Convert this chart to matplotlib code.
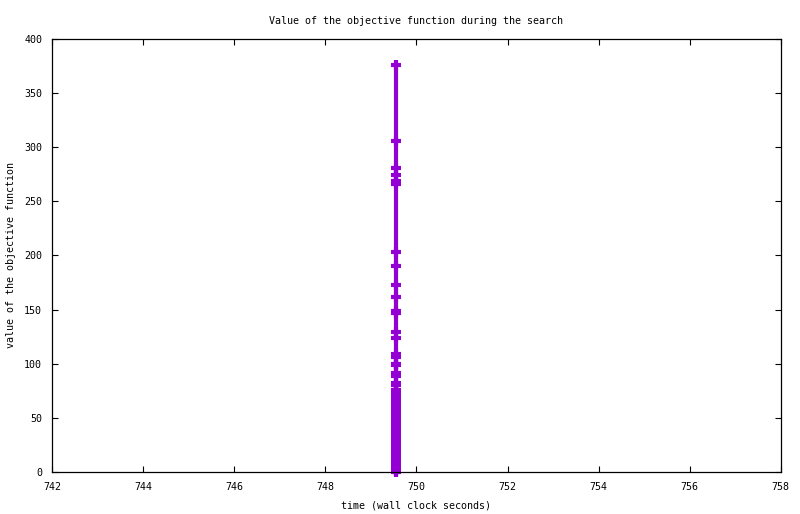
import matplotlib
matplotlib.use("Agg")
import matplotlib.pyplot as plt

# objective values (search order, high to low)
objective = [376, 306, 281, 274, 269, 266, 203, 190, 173, 162, 149, 147,
             129, 124, 109, 106, 99.5, 98.5, 91, 89, 82, 80,
             76, 74, 71, 69, 66, 64, 61, 58, 55, 52, 50, 47, 44, 41,
             38, 35, 33, 30, 27, 24, 21, 19, 16, 13, 11, 8, 6, 4, 2, 1, 0]
times = [749.55] * len(objective)

xticks = list(range(742, 759, 2))
yticks = list(range(0, 401, 50))

plt.rcParams['font.family'] = ['DejaVu Sans Mono']
plt.rcParams['font.size'] = 7.2

fig = plt.figure(figsize=(8, 5.14), dpi=100)
ax = fig.add_axes([0.065, 0.0817, 0.911, 0.8425])

ax.plot(times, objective, color='#9400D3', linewidth=3, marker='+',
        markersize=7.5, markeredgewidth=3, clip_on=False)

ax.set_xlim(742, 758)
ax.set_ylim(0, 400)
ax.set_xticks(xticks)
ax.set_yticks(yticks)
ax.tick_params(direction='in', top=True, right=True, length=4, width=0.8, pad=7)
for s in ax.spines.values():
    s.set_linewidth(0.9)

ax.set_title('Value of the objective function during the search', pad=11, fontsize=7.2)
ax.set_xlabel('time (wall clock seconds)', labelpad=6)
ax.set_ylabel('value of the objective function', labelpad=6)

fig.savefig('out.png', dpi=100)
